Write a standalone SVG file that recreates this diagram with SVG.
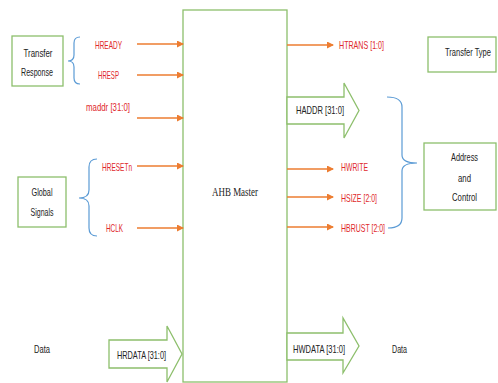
<svg xmlns="http://www.w3.org/2000/svg" width="498" height="383" viewBox="0 0 498 383">
<style>
.box{fill:#fff;stroke:#8dbf6c;stroke-width:1.3}
.big{fill:#fff;stroke:#8dbf6c;stroke-width:1.3}
.br{fill:none;stroke:#5b9bd5;stroke-width:1.2}
.sig{stroke:#ed7d31;stroke-width:1.3;fill:none;marker-end:url(#ah)}
.t{font-family:"Liberation Sans",Arial,sans-serif;font-size:10.5px;fill:#222}
.r{font-family:"Liberation Sans",Arial,sans-serif;font-size:10.5px;fill:#e0282b}
.m{font-family:"Liberation Serif","Times New Roman",serif;font-size:13.5px;fill:#222}
</style>
<defs>
<marker id="ah" markerWidth="7" markerHeight="7" refX="6" refY="3.5" orient="auto" markerUnits="userSpaceOnUse">
<path d="M0,0 L7,3.5 L0,7 Z" fill="#ed7d31"/>
</marker>
</defs>
<rect width="498" height="383" fill="#fff"/>

<g id="ahb-master">
<rect class="box" x="183" y="10" width="104" height="372"/>
<text class="m" x="212" y="196" textLength="46" lengthAdjust="spacingAndGlyphs">AHB Master</text>
</g>

<g id="transfer-response">
<rect class="box" x="12" y="36" width="51" height="50"/>
<text class="t" x="23.5" y="56.5" textLength="29" lengthAdjust="spacingAndGlyphs">Transfer</text>
<text class="t" x="21" y="75.5" textLength="32" lengthAdjust="spacingAndGlyphs">Response</text>
</g>

<g id="global-signals">
<rect class="box" x="18" y="177" width="48" height="50"/>
<text class="t" x="31.5" y="195.5" textLength="21" lengthAdjust="spacingAndGlyphs">Global</text>
<text class="t" x="30.5" y="215.5" textLength="23" lengthAdjust="spacingAndGlyphs">Signals</text>
</g>

<g id="transfer-type">
<rect class="box" x="428" y="37" width="68" height="35"/>
<text class="t" transform="translate(445,56) scale(0.7,1)" x="0" y="0" textLength="65.7" lengthAdjust="spacingAndGlyphs">Transfer Type</text>
</g>

<g id="address-control">
<rect class="box" x="424" y="143" width="72" height="67"/>
<text class="t" x="451" y="161" textLength="27" lengthAdjust="spacingAndGlyphs">Address</text>
<text class="t" x="458" y="181.5" textLength="13" lengthAdjust="spacingAndGlyphs">and</text>
<text class="t" x="452" y="200.5" textLength="25" lengthAdjust="spacingAndGlyphs">Control</text>
</g>

<g id="data-left">
<text class="t" x="34" y="352.5" textLength="16" lengthAdjust="spacingAndGlyphs">Data</text>
</g>
<g id="data-right">
<text class="t" x="392" y="352.5" textLength="15" lengthAdjust="spacingAndGlyphs">Data</text>
</g>

<g id="connectors">
<path class="br" d="M80,37 Q74,37 74,43 L74,55 Q74,61 68,61 Q74,61 74,67 L74,78 Q74,84 80,84"/>
<path class="br" d="M97,159 Q89,159 89,167 L89,190 Q89,198 79,198 Q89,198 89,206 L89,228 Q89,236 97,236"/>
<path class="br" d="M387,97 Q402,97 402,107 L402,155 Q402,163 417,163 Q402,163 402,171 L402,218 Q402,228 388,228"/>

<line class="sig" x1="137" y1="44" x2="183" y2="44"/>
<line class="sig" x1="137" y1="75" x2="183" y2="75"/>
<line class="sig" x1="137" y1="118" x2="183" y2="118"/>
<line class="sig" x1="137" y1="166" x2="183" y2="166"/>
<line class="sig" x1="137" y1="228" x2="183" y2="228"/>
<line class="sig" x1="287" y1="45" x2="333" y2="45"/>
<line class="sig" x1="287" y1="169" x2="333" y2="169"/>
<line class="sig" x1="287" y1="197" x2="333" y2="197"/>
<line class="sig" x1="287" y1="227" x2="333" y2="227"/>

<polygon class="big" points="287,97 344,97 344,83 359,110.5 344,138 344,124 287,124"/>
<polygon class="big" points="109,340 167,340 167,326 182,354 167,382 167,368 109,368"/>
<polygon class="big" points="287,333 343,333 343,318 359,346 343,373 343,360 287,360"/>

<text class="r" x="95" y="48.5" textLength="27" lengthAdjust="spacingAndGlyphs">HREADY</text>
<text class="r" x="98" y="78.5" textLength="21" lengthAdjust="spacingAndGlyphs">HRESP</text>
<text class="r" x="86" y="110.5" textLength="44" lengthAdjust="spacingAndGlyphs">maddr [31:0]</text>
<text class="r" x="102" y="170.5" textLength="30" lengthAdjust="spacingAndGlyphs">HRESETn</text>
<text class="r" x="106" y="231.5" textLength="17" lengthAdjust="spacingAndGlyphs">HCLK</text>
<text class="r" x="339" y="48.5" textLength="45" lengthAdjust="spacingAndGlyphs">HTRANS [1:0]</text>
<text class="r" x="341" y="171" textLength="27" lengthAdjust="spacingAndGlyphs">HWRITE</text>
<text class="r" x="341" y="201.5" textLength="36" lengthAdjust="spacingAndGlyphs">HSIZE [2:0]</text>
<text class="r" x="341" y="231.5" textLength="44" lengthAdjust="spacingAndGlyphs">HBRUST [2:0]</text>
<text class="t" x="296" y="114" textLength="48" lengthAdjust="spacingAndGlyphs">HADDR [31:0]</text>
<text class="t" x="117" y="358.5" textLength="49" lengthAdjust="spacingAndGlyphs">HRDATA [31:0]</text>
<text class="t" x="293" y="352.5" textLength="52" lengthAdjust="spacingAndGlyphs">HWDATA [31:0]</text>
</g>
</svg>
